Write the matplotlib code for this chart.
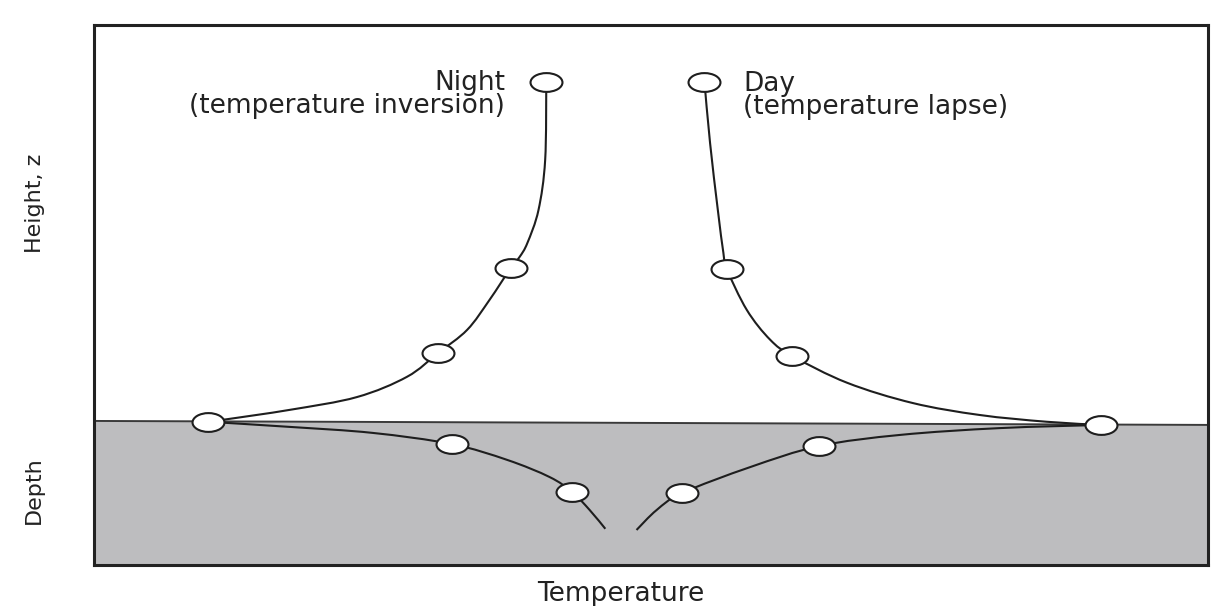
import matplotlib
matplotlib.use("Agg")
import matplotlib.pyplot as plt
from matplotlib.path import Path
from matplotlib.patches import PathPatch
from matplotlib.transforms import Affine2D

plt.rcParams['font.family'] = ['DejaVu Sans']

# ---- data (temperature, arbitrary units 0-100; height/depth, arbitrary units) ----
night_air_T = [40.6, 40.5, 39.9, 38.9, 38.2, 37.4, 35.5, 33.5, 30.9, 28.1, 23.6, 17.6, 11.6, 10.2]
night_air_z = [85.7, 66.1, 53.5, 45.2, 41.7, 38.9, 30.9, 23.4, 17.6, 11.6, 6.5, 3.3, 0.8, 0.3]
night_soil_T = [10.2, 17.6, 25.0, 32.1, 37.1, 40.9, 42.9, 44.5, 45.9]
night_soil_z = [0.3, -1.0, -2.5, -5.3, -9.3, -13.6, -17.3, -21.9, -26.6]
night_mark_T = [40.6, 37.4, 30.9, 10.2, 32.1, 42.9]
night_mark_z = [85.7, 38.9, 17.6, 0.3, -5.3, -17.3]

day_air_T = [54.8, 55.3, 56.0, 56.5, 56.8, 58.6, 60.7, 62.7, 67.6, 73.5, 79.5, 85.5, 90.4]
day_air_z = [85.7, 70.4, 53.5, 42.7, 38.7, 28.4, 20.9, 16.8, 10.1, 5.0, 2.0, 0.3, -0.5]
day_soil_T = [90.4, 81.3, 72.4, 65.1, 58.9, 52.8, 50.5, 48.7]
day_soil_z = [-0.5, -1.3, -3.0, -5.8, -11.1, -17.6, -21.9, -26.9]
day_mark_T = [54.8, 56.8, 62.7, 90.4, 65.1, 52.8]
day_mark_z = [85.7, 38.7, 16.8, -0.5, -5.8, -17.6]

surface_T = [0, 100]
surface_z = [0.5, -0.5]
z_bottom = -35.7
z_top = 100

label_night = "Night\n(temperature inversion)"
label_day = "Day\n(temperature lapse)"


def smooth_path(xs, ys):
    """Smooth curve through the read points (Catmull-Rom as cubic Bezier)."""
    pts = list(zip(xs, ys))
    n = len(pts)
    verts = [pts[0]]
    codes = [Path.MOVETO]
    for i in range(n - 1):
        p0 = pts[i - 1] if i > 0 else pts[i]
        p1 = pts[i]
        p2 = pts[i + 1]
        p3 = pts[i + 2] if i + 2 < n else pts[i + 1]
        c1 = (p1[0] + (p2[0] - p0[0]) / 6, p1[1] + (p2[1] - p0[1]) / 6)
        c2 = (p2[0] - (p3[0] - p1[0]) / 6, p2[1] - (p3[1] - p1[1]) / 6)
        verts += [c1, c2, p2]
        codes += [Path.CURVE4] * 3
    return Path(verts, codes)


# ---- figure ----
fig = plt.figure(figsize=(12.11, 6.06), dpi=100)
ax = fig.add_axes([94/1211, 1-565/606, (1208-94)/1211, (565-25)/606])
ax.set_xlim(0, 100)
ax.set_ylim(z_bottom, z_top)
ax.set_xticks([])
ax.set_yticks([])
for s in ax.spines.values():
    s.set_linewidth(2.2)
    s.set_color('#222222')

ax.fill_between(surface_T, surface_z, z_bottom, color='#bdbdbf', zorder=0, lw=0)
ax.plot(surface_T, surface_z, color='#3a3a3a', lw=1.4, zorder=1)

lc = '#1e1e1e'
for T, z in [(night_air_T, night_air_z), (night_soil_T, night_soil_z),
             (day_air_T, day_air_z), (day_soil_T, day_soil_z)]:
    ax.add_patch(PathPatch(smooth_path(T, z), facecolor='none', edgecolor=lc,
                           lw=1.5, zorder=2, capstyle='butt'))

ellipse = Path.unit_circle().transformed(Affine2D().scale(1.7, 1.0))
for T, z in [(night_mark_T, night_mark_z), (day_mark_T, day_mark_z)]:
    ax.plot(T, z, ls='none', marker=ellipse, markersize=23,
            markerfacecolor='white', markeredgecolor=lc, markeredgewidth=1.5, zorder=3)

fs = 19
ax.text(36.9, 82.5, label_night, ha='right', va='center', multialignment='right',
        linespacing=0.88, fontsize=fs, color='#222222')
ax.text(58.3, 82.3, label_day, ha='left', va='center', multialignment='left',
        linespacing=0.88, fontsize=fs, color='#222222')

fig.text(35/1211, 1-203/606, "Height, z", rotation=90, ha='center', va='center', fontsize=16, color='#222222')
fig.text(34/1211, 1-490/606, "Depth", rotation=90, ha='center', va='center', fontsize=16, color='#222222')
fig.text(621/1211, 1-594/606, "Temperature", ha='center', va='center', fontsize=fs, color='#222222')

fig.savefig("out.png", dpi=100, facecolor='white')
